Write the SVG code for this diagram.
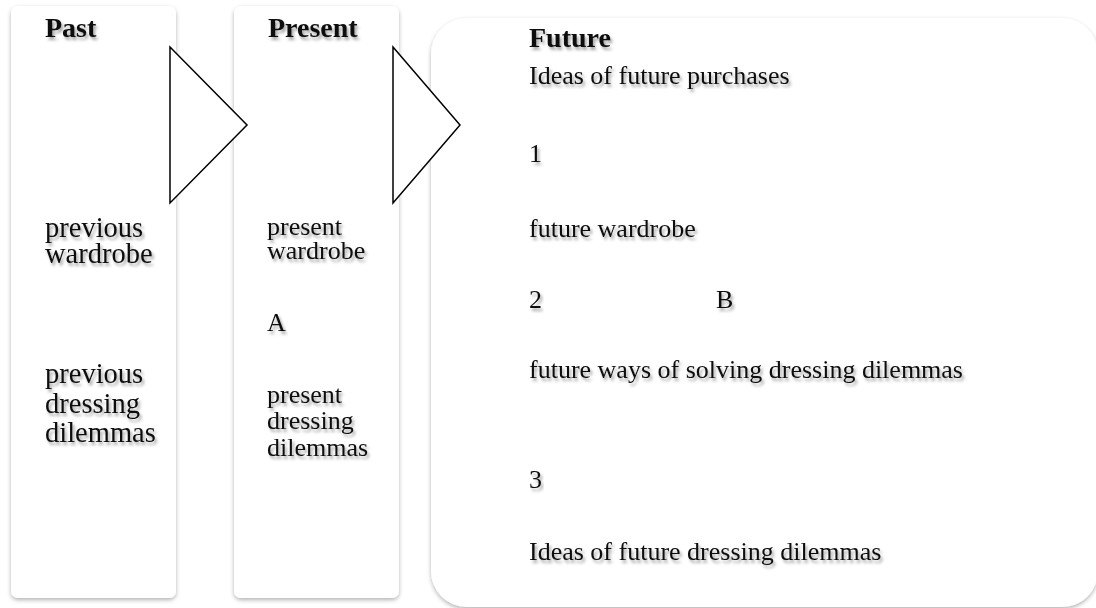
<svg xmlns="http://www.w3.org/2000/svg" width="1096" height="608" viewBox="0 0 1096 608">
<defs>
<filter id="boxShadow" x="-10%" y="-10%" width="120%" height="120%">
<feDropShadow dx="0" dy="2" stdDeviation="2" flood-color="#000" flood-opacity="0.3"/>
</filter>
<filter id="textShadow" x="-10%" y="-30%" width="120%" height="180%">
<feDropShadow dx="2" dy="3" stdDeviation="1.5" flood-color="#000" flood-opacity="0.35"/>
</filter>
</defs>
<style>
.box { fill: #ffffff; filter: url(#boxShadow); }
.tri { fill: #ffffff; stroke: #000000; stroke-width: 1.5; stroke-linejoin: miter; }
text { font-family: "Liberation Serif", "Times New Roman", serif; fill: #111111; filter: url(#textShadow); }
.title { font-weight: bold; font-size: 28px; }
.past { font-size: 28.5px; }
.body { font-size: 26px; }
</style>
<rect width="1096" height="608" fill="#ffffff"/>
<g id="past">
<rect class="box" x="11" y="6" width="165" height="592" rx="7"/>
<text class="title" x="45" y="37">Past</text>
<text class="past" x="45" y="237">previous</text>
<text class="past" x="45" y="263">wardrobe</text>
<text class="past" x="45" y="383">previous</text>
<text class="past" x="45" y="413">dressing</text>
<text class="past" x="45" y="442">dilemmas</text>
</g>
<g id="present">
<rect class="box" x="234" y="6" width="165" height="592" rx="7"/>
<text class="title" x="268" y="37">Present</text>
<text class="body" x="267" y="235">present</text>
<text class="body" x="267" y="259">wardrobe</text>
<text class="body" x="267" y="331">A</text>
<text class="body" x="267" y="403">present</text>
<text class="body" x="267" y="429">dressing</text>
<text class="body" x="267" y="456">dilemmas</text>
</g>
<g id="future">
<rect class="box" x="431" y="18" width="667" height="589" rx="36"/>
<text class="title" x="529" y="47">Future</text>
<text class="body" x="529" y="84">Ideas of future purchases</text>
<text class="body" x="529" y="162">1</text>
<text class="body" x="529" y="237">future wardrobe</text>
<text class="body" x="529" y="308">2</text>
<text class="body" x="716" y="308">B</text>
<text class="body" x="529" y="378">future ways of solving dressing dilemmas</text>
<text class="body" x="529" y="488">3</text>
<text class="body" x="529" y="560">Ideas of future dressing dilemmas</text>
</g>
<g id="connectors">
<polygon class="tri" points="170,47 247,125 170,203"/>
<polygon class="tri" points="393,47 460,125 393,203"/>
</g>
</svg>
